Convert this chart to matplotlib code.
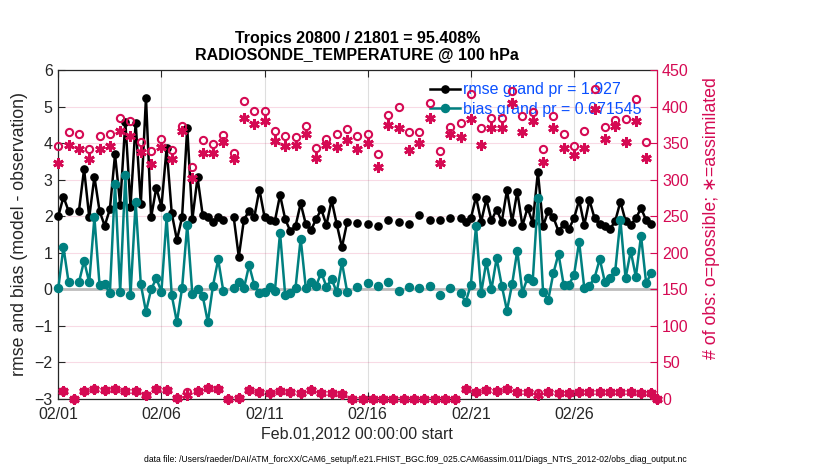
import numpy as np
import pandas as pd
import matplotlib
matplotlib.use('Agg')
import matplotlib.pyplot as plt
import matplotlib.dates as mdates

nan = np.nan

# ---------------- data (6-hourly, starting 2012-02-01 00Z) ----------------
start_time = '2012-02-01 00:00'
n_steps = 117

rmse = [2.00, 2.53, 2.14, nan, 2.14, 3.29, 1.97, 3.08, 2.14, 1.74,
        2.19, 3.69, 2.32, 4.58, 2.26, 4.56, 2.33, 5.24, 1.97, 2.78,
        2.26, 3.86, 2.08, 1.35, 1.97, 4.42, 1.92, 3.06, 2.03, 1.99,
        1.83, 1.99, 1.89, nan, 1.99, 0.89, 1.91, 2.14, 1.97, 2.73,
        1.97, 1.89, 1.87, 2.58, 1.92, 1.59, 1.73, 2.35, 1.78, 1.62,
        1.92, 2.19, 1.76, 2.44, 1.78, 1.15, 1.83, nan, 1.81, nan,
        1.79, nan, 1.73, nan, 1.89, nan, 1.84, nan, 1.78, nan,
        2.03, nan, 1.91, nan, 1.91, nan, 1.94, nan, 1.94, 1.83,
        1.94, 2.53, 1.85, 2.47, 1.89, 2.18, 1.85, 2.71, 1.85, 2.67,
        1.74, 2.23, 1.82, 3.21, 1.73, 2.14, 1.97, 1.59, 1.78, 1.65,
        1.94, 2.44, 1.76, 2.44, 1.94, 1.78, 1.72, 1.65, 1.87, 2.40,
        1.87, 1.76, 1.94, 2.22, 1.89, 1.78, nan]

bias = [0.03, 1.15, 0.19, nan, 0.19, 0.78, 0.19, 1.97, 0.12, 0.14,
        -0.11, 2.88, -0.06, 3.12, -0.16, 2.38, 0.14, -0.61, 0.00, 0.30,
        -0.06, 1.97, -0.16, -0.90, 0.03, 1.76, -0.14, 0.00, -0.18, -0.90,
        0.10, 0.82, -0.05, nan, 0.04, 0.19, 0.03, 0.66, 0.12, -0.11,
        -0.08, 0.07, -0.05, 1.55, -0.16, -0.10, 0.04, 1.39, 0.03, 0.21,
        0.10, 0.46, 0.07, 0.28, -0.08, 0.74, -0.06, nan, 0.06, nan,
        0.17, nan, 0.10, nan, 0.19, nan, -0.05, nan, 0.06, nan,
        0.04, nan, 0.10, nan, -0.16, nan, 0.04, nan, -0.11, -0.34,
        0.12, 1.73, -0.11, 0.76, 0.00, 0.85, 0.10, -0.58, 0.14, 1.06,
        -0.09, 0.32, 0.23, 2.49, -0.06, -0.29, 0.44, 0.97, 0.12, 0.12,
        0.39, 1.30, 0.03, 0.10, 0.32, 0.83, 0.19, 0.32, 0.51, 1.90,
        0.30, 1.05, 0.34, 1.47, 0.16, 0.46, nan]

nobs_possible = [346, 11, 365, 0, 362, 11, 342, 13, 360, 12,
                 363, 14, 384, 11, 380, 11, 351, 6, 339, 13,
                 355, 12, 340, 2, 374, 10, 317, 11, 354, 15,
                 349, 14, 361, 0, 337, 2, 408, 12, 394, 10,
                 394, 8, 366, 11, 360, 10, 358, 8, 373, 12,
                 343, 8, 356, 8, 363, 7, 369, 0, 360, 0,
                 362, 0, 335, 0, 389, 0, 399, 0, 365, 0,
                 365, 0, 405, 0, 339, 0, 372, 0, 378, 13,
                 417, 9, 370, 12, 384, 11, 385, 13, 421, 10,
                 387, 9, 393, 8, 342, 10, 387, 8, 362, 8,
                 346, 10, 366, 10, 424, 9, 372, 9, 382, 9,
                 383, 10, 410, 8, 352, 8, 0]

nobs_assimilated = [323, 11, 348, 0, 342, 11, 328, 13, 342, 12,
                    346, 14, 367, 11, 360, 11, 338, 6, 321, 13,
                    345, 12, 328, 2, 366, 6, 302, 11, 337, 15,
                    336, 14, 351, 0, 328, 2, 385, 12, 376, 10,
                    380, 8, 353, 11, 346, 10, 347, 8, 362, 12,
                    330, 8, 348, 8, 344, 7, 354, 0, 342, 0,
                    350, 0, 317, 0, 375, 0, 371, 0, 340, 0,
                    350, 0, 384, 0, 323, 0, 362, 0, 358, 13,
                    383, 9, 348, 12, 371, 11, 370, 13, 405, 10,
                    365, 9, 380, 5, 324, 10, 370, 8, 343, 8,
                    334, 10, 343, 10, 397, 9, 355, 9, 374, 9,
                    352, 10, 380, 8, 330, 8, 0]

xtick_dates = ['2012-02-01', '2012-02-06', '2012-02-11', '2012-02-16',
               '2012-02-21', '2012-02-26']
xtick_labels = ['02/01', '02/06', '02/11', '02/16', '02/21', '02/26']
left_ticks = [-3, -2, -1, 0, 1, 2, 3, 4, 5, 6]
right_ticks = [0, 50, 100, 150, 200, 250, 300, 350, 400, 450]

title_text = 'Tropics 20800 / 21801 = 95.408%\nRADIOSONDE_TEMPERATURE @ 100 hPa'
rmse_label = 'rmse grand pr = 1.927'
bias_label = 'bias grand pr = 0.071545'
xlabel_text = 'Feb.01,2012 00:00:00 start'
ylabel_left = 'rmse and bias (model - observation)'
ylabel_right = '# of obs: o=possible; \u2217=assimilated'
datafile_text = ('data file: /Users/raeder/DAI/ATM_forcXX/CAM6_setup/'
                 'f.e21.FHIST_BGC.f09_025.CAM6assim.011/Diags_NTrS_2012-02/'
                 'obs_diag_output.nc')

# ---------------- styling ----------------
plt.rcParams['font.family'] = ['Liberation Sans', 'DejaVu Sans']
AXC = '#262626'
CRIM = '#d50a53'
TEAL = '#008080'
BLUE = '#0a50ff'
FS = 11.5
FSL = 12.8

times = pd.date_range(start_time, periods=n_steps, freq='6h')

fig = plt.figure(figsize=(8.3, 4.7), dpi=100)
W, H = 830, 470
x0, x1, y0, y1 = 58.3, 656.5, 70, 399
ax = fig.add_axes([x0 / W, 1 - y1 / H, (x1 - x0) / W, (y1 - y0) / H])

ax.axhline(0, color='#bdbdbd', lw=2.0, zorder=1.5)
l_rmse, = ax.plot(times, rmse, '-o', color='black', lw=1.8, ms=5.2,
                  zorder=3, clip_on=False)
l_bias, = ax.plot(times, bias, '-o', color=TEAL, lw=1.8, ms=5.8,
                  zorder=3, clip_on=False)

ax.set_xlim(pd.Timestamp('2012-02-01'), pd.Timestamp('2012-03-01'))
ax.set_ylim(-3, 6)
ax.set_yticks(left_ticks)
ax.set_xticks(pd.to_datetime(xtick_dates))
ax.set_xticklabels(xtick_labels)
ax.tick_params(axis='both', direction='in', length=5, width=0.8,
               colors=AXC, labelsize=FS, pad=4)
ax.tick_params(axis='x', top=True, pad=5.5)
ax.tick_params(axis='y', right=False)
ax.grid(axis='x', color=AXC, alpha=0.15, lw=0.8)
ax.grid(axis='y', color=CRIM, alpha=0.15, lw=0.8)
ax.set_axisbelow(True)
for s in ['left', 'top', 'bottom']:
    ax.spines[s].set_color(AXC)
    ax.spines[s].set_linewidth(0.9)
ax.spines['right'].set_visible(False)

ax.set_xlabel(xlabel_text, fontsize=FS, color=AXC, labelpad=4)
ax.set_ylabel(ylabel_left, fontsize=FSL, color=AXC, labelpad=5)
ax.set_title(title_text, fontsize=FS, fontweight='bold', color='black',
             pad=7.5, linespacing=1.15)

leg = ax.legend([l_rmse, l_bias], [rmse_label, bias_label],
                loc='upper left', bbox_to_anchor=(0.6215, 0.963),
                frameon=False, fontsize=FS, borderpad=0, borderaxespad=0,
                handlelength=1.9, handletextpad=0.15, labelspacing=0.3)
for t in leg.get_texts():
    t.set_color(BLUE)

# right axis: observation counts
ax2 = ax.twinx()
ax2.plot(times, nobs_possible, linestyle='none', marker='o', mfc='none',
         mec=CRIM, mew=1.5, ms=5.2, zorder=3, clip_on=False)
ax2.plot(times, nobs_assimilated, linestyle='none', marker=(6, 2, 0),
         color=CRIM, mec=CRIM, mew=2.0, ms=7.5, zorder=3, clip_on=False)
ax2.set_ylim(0, 450)
ax2.set_yticks(right_ticks)
ax2.tick_params(axis='y', direction='in', length=5, width=0.8,
                colors=CRIM, labelsize=FS, pad=4)
for s in ['left', 'top', 'bottom']:
    ax2.spines[s].set_visible(False)
ax2.spines['right'].set_color(CRIM)
ax2.spines['right'].set_linewidth(0.9)
ax2.set_ylabel(ylabel_right, fontsize=FSL, color=CRIM, labelpad=6)
ax2.yaxis.set_label_coords(1.078, 0.55)

fig.text(0.5, 1 - 459 / H, datafile_text, ha='center', va='center',
         fontsize=6.2, color='black')

fig.savefig('out.png', dpi=100)
